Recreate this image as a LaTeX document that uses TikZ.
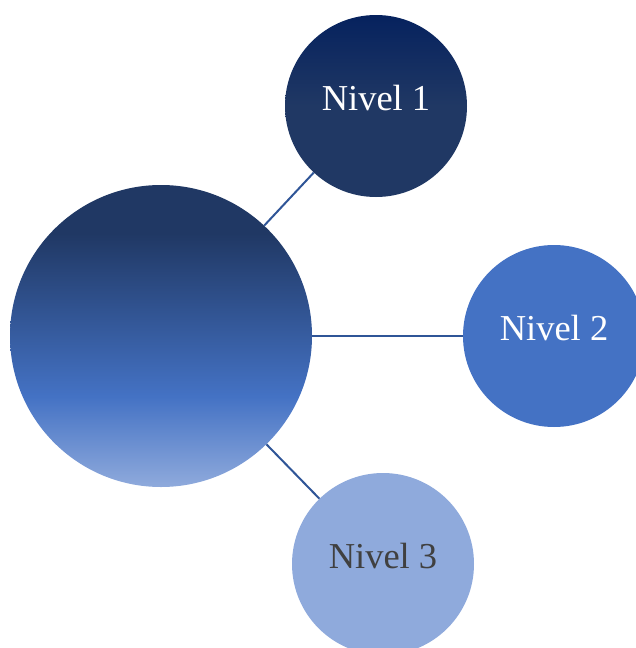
\documentclass[tikz,border=0pt]{standalone}
\usepackage{fontspec}
\setmainfont{Liberation Serif}
\usetikzlibrary{positioning}
\definecolor{navydark}{RGB}{6,34,94}
\definecolor{navy}{RGB}{32,56,100}
\definecolor{midblue}{RGB}{68,114,196}
\definecolor{lightblue}{RGB}{143,170,220}
\definecolor{linkblue}{RGB}{47,85,151}
\definecolor{textgray}{RGB}{64,64,64}
\pgfdeclareverticalshading{corefade}{100bp}{color(0bp)=(lightblue); color(25bp)=(lightblue);
  color(40bp)=(midblue); color(67bp)=(navy); color(75bp)=(navy); color(100bp)=(navy)}
\pgfdeclareverticalshading{topfade}{100bp}{color(0bp)=(navy); color(50bp)=(navy);
  color(75bp)=(navydark); color(100bp)=(navydark)}
\tikzset{
  corenode/.style={circle, inner sep=0pt, minimum size=302pt, shading=corefade},
  levelnode/.style={circle, inner sep=0pt, minimum size=182pt, text depth=16pt,
    font=\fontsize{36.5}{40}\selectfont},
  link/.style={line width=2pt, color=linkblue},
}
\begin{document}
\begin{tikzpicture}[x=1pt, y=-1pt]
  \useasboundingbox (0,0) rectangle (635,648);

  % Circles
  \node[corenode] (core) at (161,336) {};
  \node[levelnode, shading=topfade, text=white] (nivel1) at (376,106) {Nivel 1};
  \node[levelnode, fill=midblue, text=white] (nivel2) at (554,336) {Nivel 2};
  \node[levelnode, fill=lightblue, text=textgray] (nivel3) at (383,564) {Nivel 3};

  % Links
  \draw[link] (core) -- (nivel1);
  \draw[link] (core) -- (nivel2);
  \draw[link] (core) -- (nivel3);
\end{tikzpicture}
\end{document}
